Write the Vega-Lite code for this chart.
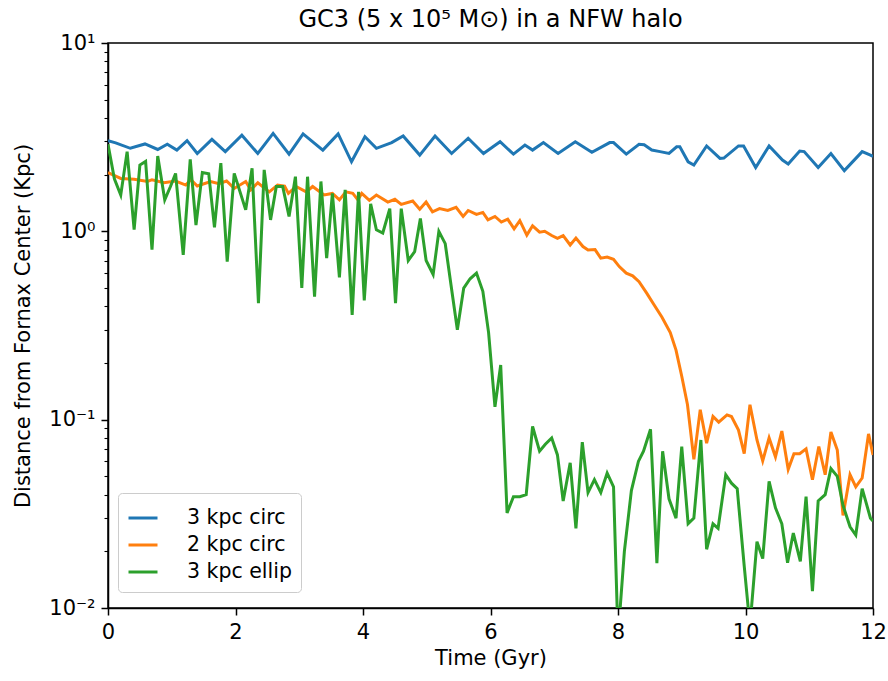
{
  "$schema": "https://vega.github.io/schema/vega-lite/v6.json",
  "width": 765,
  "height": 565,
  "autosize": {"type": "none"},
  "padding": {"left": 108, "top": 43, "right": 15, "bottom": 73},
  "title": {"text": "GC3 (5 x 10⁵ M⊙) in a NFW halo", "fontSize": 24, "fontWeight": "normal", "font": "DejaVu Sans", "color": "black", "offset": 0, "anchor": "middle"},
  "config": {
    "font": "DejaVu Sans",
    "view": {"stroke": "black", "strokeWidth": 1.5},
    "axis": {"grid": false, "domainColor": "black", "domainWidth": 1.5, "tickColor": "black", "labelColor": "black", "titleColor": "black", "labelFontSize": 21, "titleFontSize": 21, "titleFontWeight": "normal", "labelFont": "DejaVu Sans", "titleFont": "DejaVu Sans"}
  },
  "data": {"values": [
    {"s":"3 kpc circ","t":0,"d":3.03},{"s":"3 kpc circ","t":0.12,"d":2.95},{"s":"3 kpc circ","t":0.35,"d":2.76},{"s":"3 kpc circ","t":0.58,"d":2.91},{"s":"3 kpc circ","t":0.78,"d":2.72},{"s":"3 kpc circ","t":0.93,"d":2.9},{"s":"3 kpc circ","t":1.08,"d":2.7},{"s":"3 kpc circ","t":1.24,"d":3.03},{"s":"3 kpc circ","t":1.4,"d":2.59},{"s":"3 kpc circ","t":1.63,"d":3.08},{"s":"3 kpc circ","t":1.84,"d":2.65},{"s":"3 kpc circ","t":2.1,"d":3.24},{"s":"3 kpc circ","t":2.35,"d":2.59},{"s":"3 kpc circ","t":2.59,"d":3.31},{"s":"3 kpc circ","t":2.84,"d":2.57},{"s":"3 kpc circ","t":3.06,"d":3.29},{"s":"3 kpc circ","t":3.37,"d":2.7},{"s":"3 kpc circ","t":3.61,"d":3.29},{"s":"3 kpc circ","t":3.82,"d":2.34},{"s":"3 kpc circ","t":4.03,"d":3.18},{"s":"3 kpc circ","t":4.21,"d":2.76},{"s":"3 kpc circ","t":4.45,"d":2.96},{"s":"3 kpc circ","t":4.63,"d":3.21},{"s":"3 kpc circ","t":4.89,"d":2.54},{"s":"3 kpc circ","t":5.13,"d":3.21},{"s":"3 kpc circ","t":5.39,"d":2.59},{"s":"3 kpc circ","t":5.65,"d":3.12},{"s":"3 kpc circ","t":5.89,"d":2.59},{"s":"3 kpc circ","t":6.15,"d":2.99},{"s":"3 kpc circ","t":6.36,"d":2.57},{"s":"3 kpc circ","t":6.54,"d":2.87},{"s":"3 kpc circ","t":6.66,"d":2.7},{"s":"3 kpc circ","t":6.83,"d":2.96},{"s":"3 kpc circ","t":7.06,"d":2.59},{"s":"3 kpc circ","t":7.33,"d":2.99},{"s":"3 kpc circ","t":7.59,"d":2.63},{"s":"3 kpc circ","t":7.87,"d":2.96},{"s":"3 kpc circ","t":7.93,"d":2.96},{"s":"3 kpc circ","t":8.13,"d":2.57},{"s":"3 kpc circ","t":8.33,"d":2.9},{"s":"3 kpc circ","t":8.41,"d":2.88},{"s":"3 kpc circ","t":8.53,"d":2.7},{"s":"3 kpc circ","t":8.66,"d":2.65},{"s":"3 kpc circ","t":8.8,"d":2.59},{"s":"3 kpc circ","t":8.92,"d":2.81},{"s":"3 kpc circ","t":8.97,"d":2.81},{"s":"3 kpc circ","t":9.1,"d":2.34},{"s":"3 kpc circ","t":9.19,"d":2.25},{"s":"3 kpc circ","t":9.39,"d":2.84},{"s":"3 kpc circ","t":9.6,"d":2.44},{"s":"3 kpc circ","t":9.66,"d":2.45},{"s":"3 kpc circ","t":9.89,"d":2.84},{"s":"3 kpc circ","t":9.97,"d":2.84},{"s":"3 kpc circ","t":10.16,"d":2.18},{"s":"3 kpc circ","t":10.37,"d":2.84},{"s":"3 kpc circ","t":10.58,"d":2.39},{"s":"3 kpc circ","t":10.67,"d":2.28},{"s":"3 kpc circ","t":10.85,"d":2.67},{"s":"3 kpc circ","t":10.92,"d":2.65},{"s":"3 kpc circ","t":11.14,"d":2.18},{"s":"3 kpc circ","t":11.34,"d":2.59},{"s":"3 kpc circ","t":11.55,"d":2.1},{"s":"3 kpc circ","t":11.83,"d":2.65},{"s":"3 kpc circ","t":11.96,"d":2.54},{"s":"3 kpc circ","t":12,"d":2.5},
    {"s":"2 kpc circ","t":0,"d":2.05},{"s":"2 kpc circ","t":0.2,"d":1.91},{"s":"2 kpc circ","t":0.41,"d":1.89},{"s":"2 kpc circ","t":0.62,"d":1.84},{"s":"2 kpc circ","t":0.69,"d":1.88},{"s":"2 kpc circ","t":0.88,"d":1.81},{"s":"2 kpc circ","t":1.06,"d":1.85},{"s":"2 kpc circ","t":1.22,"d":1.76},{"s":"2 kpc circ","t":1.3,"d":1.88},{"s":"2 kpc circ","t":1.4,"d":1.74},{"s":"2 kpc circ","t":1.61,"d":1.84},{"s":"2 kpc circ","t":1.74,"d":1.79},{"s":"2 kpc circ","t":1.86,"d":1.85},{"s":"2 kpc circ","t":1.98,"d":1.69},{"s":"2 kpc circ","t":2.16,"d":1.84},{"s":"2 kpc circ","t":2.24,"d":1.66},{"s":"2 kpc circ","t":2.35,"d":1.81},{"s":"2 kpc circ","t":2.53,"d":1.62},{"s":"2 kpc circ","t":2.66,"d":1.76},{"s":"2 kpc circ","t":2.77,"d":1.74},{"s":"2 kpc circ","t":2.83,"d":1.59},{"s":"2 kpc circ","t":2.95,"d":1.73},{"s":"2 kpc circ","t":3.11,"d":1.62},{"s":"2 kpc circ","t":3.21,"d":1.73},{"s":"2 kpc circ","t":3.39,"d":1.56},{"s":"2 kpc circ","t":3.52,"d":1.59},{"s":"2 kpc circ","t":3.63,"d":1.47},{"s":"2 kpc circ","t":3.73,"d":1.62},{"s":"2 kpc circ","t":3.84,"d":1.59},{"s":"2 kpc circ","t":3.92,"d":1.47},{"s":"2 kpc circ","t":3.98,"d":1.59},{"s":"2 kpc circ","t":4.1,"d":1.46},{"s":"2 kpc circ","t":4.21,"d":1.56},{"s":"2 kpc circ","t":4.39,"d":1.43},{"s":"2 kpc circ","t":4.5,"d":1.48},{"s":"2 kpc circ","t":4.6,"d":1.39},{"s":"2 kpc circ","t":4.78,"d":1.45},{"s":"2 kpc circ","t":4.89,"d":1.31},{"s":"2 kpc circ","t":4.99,"d":1.43},{"s":"2 kpc circ","t":5.09,"d":1.27},{"s":"2 kpc circ","t":5.2,"d":1.32},{"s":"2 kpc circ","t":5.33,"d":1.29},{"s":"2 kpc circ","t":5.46,"d":1.34},{"s":"2 kpc circ","t":5.57,"d":1.2},{"s":"2 kpc circ","t":5.65,"d":1.29},{"s":"2 kpc circ","t":5.78,"d":1.23},{"s":"2 kpc circ","t":5.88,"d":1.26},{"s":"2 kpc circ","t":5.96,"d":1.15},{"s":"2 kpc circ","t":6.07,"d":1.2},{"s":"2 kpc circ","t":6.17,"d":1.12},{"s":"2 kpc circ","t":6.27,"d":1.16},{"s":"2 kpc circ","t":6.37,"d":1.03},{"s":"2 kpc circ","t":6.46,"d":1.14},{"s":"2 kpc circ","t":6.57,"d":0.955},{"s":"2 kpc circ","t":6.66,"d":1.07},{"s":"2 kpc circ","t":6.77,"d":0.99},{"s":"2 kpc circ","t":6.85,"d":1.0},{"s":"2 kpc circ","t":6.96,"d":0.95},{"s":"2 kpc circ","t":7.05,"d":0.918},{"s":"2 kpc circ","t":7.14,"d":0.95},{"s":"2 kpc circ","t":7.25,"d":0.846},{"s":"2 kpc circ","t":7.34,"d":0.92},{"s":"2 kpc circ","t":7.45,"d":0.83},{"s":"2 kpc circ","t":7.53,"d":0.796},{"s":"2 kpc circ","t":7.64,"d":0.8},{"s":"2 kpc circ","t":7.73,"d":0.72},{"s":"2 kpc circ","t":7.83,"d":0.73},{"s":"2 kpc circ","t":7.93,"d":0.71},{"s":"2 kpc circ","t":8.02,"d":0.65},{"s":"2 kpc circ","t":8.13,"d":0.6},{"s":"2 kpc circ","t":8.23,"d":0.58},{"s":"2 kpc circ","t":8.33,"d":0.54},{"s":"2 kpc circ","t":8.45,"d":0.47},{"s":"2 kpc circ","t":8.56,"d":0.41},{"s":"2 kpc circ","t":8.69,"d":0.35},{"s":"2 kpc circ","t":8.82,"d":0.29},{"s":"2 kpc circ","t":8.91,"d":0.234},{"s":"2 kpc circ","t":9.0,"d":0.17},{"s":"2 kpc circ","t":9.09,"d":0.12},{"s":"2 kpc circ","t":9.19,"d":0.0615},{"s":"2 kpc circ","t":9.29,"d":0.113},{"s":"2 kpc circ","t":9.39,"d":0.075},{"s":"2 kpc circ","t":9.49,"d":0.104},{"s":"2 kpc circ","t":9.58,"d":0.097},{"s":"2 kpc circ","t":9.71,"d":0.106},{"s":"2 kpc circ","t":9.78,"d":0.104},{"s":"2 kpc circ","t":9.89,"d":0.088},{"s":"2 kpc circ","t":9.98,"d":0.066},{"s":"2 kpc circ","t":10.07,"d":0.12},{"s":"2 kpc circ","t":10.18,"d":0.078},{"s":"2 kpc circ","t":10.27,"d":0.0605},{"s":"2 kpc circ","t":10.37,"d":0.08},{"s":"2 kpc circ","t":10.47,"d":0.0635},{"s":"2 kpc circ","t":10.57,"d":0.087},{"s":"2 kpc circ","t":10.67,"d":0.0545},{"s":"2 kpc circ","t":10.76,"d":0.066},{"s":"2 kpc circ","t":10.85,"d":0.066},{"s":"2 kpc circ","t":10.95,"d":0.07},{"s":"2 kpc circ","t":11.05,"d":0.048},{"s":"2 kpc circ","t":11.15,"d":0.072},{"s":"2 kpc circ","t":11.25,"d":0.051},{"s":"2 kpc circ","t":11.34,"d":0.086},{"s":"2 kpc circ","t":11.44,"d":0.069},{"s":"2 kpc circ","t":11.53,"d":0.031},{"s":"2 kpc circ","t":11.64,"d":0.051},{"s":"2 kpc circ","t":11.73,"d":0.044},{"s":"2 kpc circ","t":11.83,"d":0.049},{"s":"2 kpc circ","t":11.93,"d":0.084},{"s":"2 kpc circ","t":12,"d":0.065},
    {"s":"3 kpc ellip","t":0,"d":2.9},{"s":"3 kpc ellip","t":0.1,"d":1.9},{"s":"3 kpc ellip","t":0.2,"d":1.56},{"s":"3 kpc ellip","t":0.3,"d":2.65},{"s":"3 kpc ellip","t":0.41,"d":1.02},{"s":"3 kpc ellip","t":0.5,"d":2.25},{"s":"3 kpc ellip","t":0.59,"d":2.35},{"s":"3 kpc ellip","t":0.69,"d":0.8},{"s":"3 kpc ellip","t":0.78,"d":2.51},{"s":"3 kpc ellip","t":0.89,"d":1.47},{"s":"3 kpc ellip","t":0.98,"d":1.73},{"s":"3 kpc ellip","t":1.06,"d":2.03},{"s":"3 kpc ellip","t":1.18,"d":0.75},{"s":"3 kpc ellip","t":1.29,"d":2.41},{"s":"3 kpc ellip","t":1.38,"d":1.08},{"s":"3 kpc ellip","t":1.48,"d":2.05},{"s":"3 kpc ellip","t":1.58,"d":2.02},{"s":"3 kpc ellip","t":1.67,"d":1.05},{"s":"3 kpc ellip","t":1.77,"d":2.3},{"s":"3 kpc ellip","t":1.87,"d":0.69},{"s":"3 kpc ellip","t":1.98,"d":2.03},{"s":"3 kpc ellip","t":2.16,"d":1.3},{"s":"3 kpc ellip","t":2.26,"d":2.16},{"s":"3 kpc ellip","t":2.36,"d":0.415},{"s":"3 kpc ellip","t":2.45,"d":2.12},{"s":"3 kpc ellip","t":2.55,"d":1.15},{"s":"3 kpc ellip","t":2.64,"d":1.73},{"s":"3 kpc ellip","t":2.74,"d":1.73},{"s":"3 kpc ellip","t":2.84,"d":1.2},{"s":"3 kpc ellip","t":2.94,"d":1.95},{"s":"3 kpc ellip","t":3.04,"d":0.5},{"s":"3 kpc ellip","t":3.13,"d":1.95},{"s":"3 kpc ellip","t":3.24,"d":0.45},{"s":"3 kpc ellip","t":3.34,"d":1.84},{"s":"3 kpc ellip","t":3.43,"d":0.72},{"s":"3 kpc ellip","t":3.52,"d":1.59},{"s":"3 kpc ellip","t":3.63,"d":0.57},{"s":"3 kpc ellip","t":3.72,"d":1.66},{"s":"3 kpc ellip","t":3.83,"d":0.36},{"s":"3 kpc ellip","t":3.93,"d":1.62},{"s":"3 kpc ellip","t":4.02,"d":0.43},{"s":"3 kpc ellip","t":4.12,"d":1.4},{"s":"3 kpc ellip","t":4.21,"d":1.02},{"s":"3 kpc ellip","t":4.31,"d":0.98},{"s":"3 kpc ellip","t":4.42,"d":1.32},{"s":"3 kpc ellip","t":4.51,"d":0.415},{"s":"3 kpc ellip","t":4.6,"d":1.32},{"s":"3 kpc ellip","t":4.71,"d":0.7},{"s":"3 kpc ellip","t":4.81,"d":0.78},{"s":"3 kpc ellip","t":4.9,"d":1.17},{"s":"3 kpc ellip","t":4.99,"d":0.7},{"s":"3 kpc ellip","t":5.1,"d":0.59},{"s":"3 kpc ellip","t":5.19,"d":1.0},{"s":"3 kpc ellip","t":5.29,"d":0.86},{"s":"3 kpc ellip","t":5.38,"d":0.52},{"s":"3 kpc ellip","t":5.48,"d":0.3},{"s":"3 kpc ellip","t":5.58,"d":0.5},{"s":"3 kpc ellip","t":5.68,"d":0.56},{"s":"3 kpc ellip","t":5.78,"d":0.6},{"s":"3 kpc ellip","t":5.88,"d":0.48},{"s":"3 kpc ellip","t":5.97,"d":0.29},{"s":"3 kpc ellip","t":6.07,"d":0.117},{"s":"3 kpc ellip","t":6.16,"d":0.195},{"s":"3 kpc ellip","t":6.26,"d":0.032},{"s":"3 kpc ellip","t":6.36,"d":0.039},{"s":"3 kpc ellip","t":6.46,"d":0.039},{"s":"3 kpc ellip","t":6.56,"d":0.04},{"s":"3 kpc ellip","t":6.66,"d":0.092},{"s":"3 kpc ellip","t":6.77,"d":0.068},{"s":"3 kpc ellip","t":6.86,"d":0.074},{"s":"3 kpc ellip","t":6.96,"d":0.08},{"s":"3 kpc ellip","t":7.05,"d":0.065},{"s":"3 kpc ellip","t":7.14,"d":0.037},{"s":"3 kpc ellip","t":7.25,"d":0.059},{"s":"3 kpc ellip","t":7.34,"d":0.0265},{"s":"3 kpc ellip","t":7.44,"d":0.076},{"s":"3 kpc ellip","t":7.53,"d":0.041},{"s":"3 kpc ellip","t":7.63,"d":0.048},{"s":"3 kpc ellip","t":7.73,"d":0.041},{"s":"3 kpc ellip","t":7.83,"d":0.052},{"s":"3 kpc ellip","t":7.93,"d":0.044},{"s":"3 kpc ellip","t":8.0,"d":0.007},{"s":"3 kpc ellip","t":8.1,"d":0.02},{"s":"3 kpc ellip","t":8.21,"d":0.042},{"s":"3 kpc ellip","t":8.32,"d":0.06},{"s":"3 kpc ellip","t":8.4,"d":0.068},{"s":"3 kpc ellip","t":8.51,"d":0.089},{"s":"3 kpc ellip","t":8.61,"d":0.0173},{"s":"3 kpc ellip","t":8.7,"d":0.068},{"s":"3 kpc ellip","t":8.8,"d":0.038},{"s":"3 kpc ellip","t":8.91,"d":0.03},{"s":"3 kpc ellip","t":9.0,"d":0.072},{"s":"3 kpc ellip","t":9.1,"d":0.028},{"s":"3 kpc ellip","t":9.19,"d":0.03},{"s":"3 kpc ellip","t":9.3,"d":0.078},{"s":"3 kpc ellip","t":9.39,"d":0.0205},{"s":"3 kpc ellip","t":9.49,"d":0.028},{"s":"3 kpc ellip","t":9.57,"d":0.0265},{"s":"3 kpc ellip","t":9.69,"d":0.051},{"s":"3 kpc ellip","t":9.78,"d":0.046},{"s":"3 kpc ellip","t":9.87,"d":0.043},{"s":"3 kpc ellip","t":9.98,"d":0.0167},{"s":"3 kpc ellip","t":10.07,"d":0.008},{"s":"3 kpc ellip","t":10.18,"d":0.0225},{"s":"3 kpc ellip","t":10.27,"d":0.0183},{"s":"3 kpc ellip","t":10.37,"d":0.047},{"s":"3 kpc ellip","t":10.47,"d":0.034},{"s":"3 kpc ellip","t":10.57,"d":0.028},{"s":"3 kpc ellip","t":10.66,"d":0.0174},{"s":"3 kpc ellip","t":10.75,"d":0.025},{"s":"3 kpc ellip","t":10.86,"d":0.0177},{"s":"3 kpc ellip","t":10.95,"d":0.039},{"s":"3 kpc ellip","t":11.05,"d":0.0123},{"s":"3 kpc ellip","t":11.14,"d":0.037},{"s":"3 kpc ellip","t":11.25,"d":0.04},{"s":"3 kpc ellip","t":11.34,"d":0.055},{"s":"3 kpc ellip","t":11.44,"d":0.05},{"s":"3 kpc ellip","t":11.53,"d":0.035},{"s":"3 kpc ellip","t":11.64,"d":0.027},{"s":"3 kpc ellip","t":11.73,"d":0.0244},{"s":"3 kpc ellip","t":11.83,"d":0.043},{"s":"3 kpc ellip","t":11.96,"d":0.03},{"s":"3 kpc ellip","t":12,"d":0.029}
  ]},
  "mark": {"type": "line", "strokeWidth": 3, "clip": true},
  "encoding": {
    "x": {"field": "t", "type": "quantitative", "scale": {"domain": [0, 12], "nice": false, "zero": false},
      "axis": {"title": "Time (Gyr)", "values": [0, 2, 4, 6, 8, 10, 12], "tickSize": 7, "tickWidth": 1.5, "labelPadding": 6, "titlePadding": 5, "labelFlush": false}},
    "y": {"field": "d", "type": "quantitative", "scale": {"type": "log", "domain": [0.01, 10], "nice": false},
      "axis": {"title": "Distance from Fornax Center (Kpc)", "values": [0.01,0.02,0.03,0.04,0.05,0.06,0.07,0.08,0.09,0.1,0.2,0.3,0.4,0.5,0.6,0.7,0.8,0.9,1,2,3,4,5,6,7,8,9,10],
        "labelExpr": "datum.value == 0.01 ? '10⁻²' : datum.value == 0.1 ? '10⁻¹' : datum.value == 1 ? '10⁰' : datum.value == 10 ? '10¹' : ''",
        "tickSize": {"condition": {"test": "datum.value == 0.01 || datum.value == 0.1 || datum.value == 1 || datum.value == 10", "value": 7}, "value": 4},
        "tickWidth": {"condition": {"test": "datum.value == 0.01 || datum.value == 0.1 || datum.value == 1 || datum.value == 10", "value": 1.5}, "value": 1.1},
        "labelPadding": 6, "titlePadding": 15, "labelFlush": false, "labelOverlap": false}},
    "color": {"field": "s", "type": "nominal", "scale": {"domain": ["3 kpc circ", "2 kpc circ", "3 kpc ellip"], "range": ["#1f77b4", "#ff7f0e", "#2ca02c"]},
      "legend": {"title": null, "orient": "none", "legendX": 10, "legendY": 450, "symbolType": "stroke", "symbolSize": 841, "symbolStrokeWidth": 3, "labelFontSize": 20.5, "labelOffset": 28, "rowPadding": 0, "padding": 9, "strokeColor": "#cccccc", "fillColor": "rgba(255,255,255,0.8)", "cornerRadius": 4, "labelColor": "black", "labelFont": "DejaVu Sans"}}
  }
}
